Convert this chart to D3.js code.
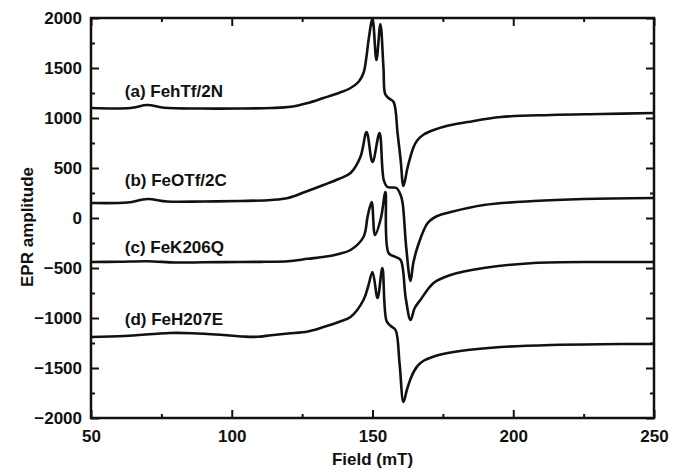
<!DOCTYPE html>
<html>
<head>
<meta charset="utf-8">
<script src="https://cdn.jsdelivr.net/npm/d3@7"></script>
<style>
  body { margin: 0; background: #fff; overflow: hidden; }
  svg { display: block; font-family: "Liberation Sans", Arial, sans-serif; }
</style>
</head>
<body>
<svg id="chart" width="679" height="473"></svg>
<script>
// EPR-Spektren, vier Proben, vertikal versetzt
const fieldTicks = [50, 100, 150, 200, 250];
const fieldMinor = [75, 125, 175, 225];
const ampTicks = [-2000, -1500, -1000, -500, 0, 500, 1000, 1500, 2000];
const ampMinor = [-1750, -1250, -750, -250, 250, 750, 1250, 1750];

const labels = ["(a) FehTf/2N", "(b) FeOTf/2C", "(c) FeK206Q", "(d) FeH207E"];
const labelField = 62;
const labelAmp = [1210, 320, -350, -1070];

// [Feld (mT), Amplitude]
const specA = [
  [50, 1100], [64, 1100], [70, 1130], [76, 1102], [89, 1095], [103, 1095],
  [114, 1100], [121, 1112], [127, 1150], [132.6, 1200], [138, 1250], [142.2, 1300],
  [145, 1360], [146.8, 1450], [147.8, 1600], [148.6, 1780], [150, 1990],
  [151.4, 1580], [152.8, 1940], [153.9, 1500], [154.5, 1240], [155.7, 1200],
  [157.5, 1160], [158.9, 850], [160, 580], [161, 320], [162.5, 510],
  [164.6, 710], [166, 780], [168.2, 835], [171.7, 880], [177, 925],
  [183.8, 960], [195.6, 1010], [213.4, 1030], [231, 1040], [250, 1050]
];

const specB = [
  [50, 150], [63, 155], [70, 190], [77, 165], [90, 165], [103, 170],
  [114, 180], [120, 200], [126, 260], [132.6, 330], [138, 390], [142.2, 450],
  [145.7, 610], [147.9, 860], [150, 560], [152.5, 850], [154, 380],
  [155.3, 310], [158.5, 300], [160, 230], [160.7, 150], [162, -300],
  [163.5, -630], [164.5, -450], [166, -290], [169.6, -50], [173, 20],
  [177.8, 60], [189.5, 130], [207.3, 170], [225, 190], [250, 200]
];

const specC = [
  [50, -440], [60, -438], [70, -432], [80, -445], [90, -443], [103, -440],
  [112, -438], [120, -432], [127, -408], [133, -388], [138, -360],
  [142.2, -320], [146.8, -190], [148.3, 20], [149.7, 160], [150.9, -170],
  [153, 0], [154.6, 260], [155.7, -350], [158.2, -390], [160, -420],
  [161.8, -800], [163.5, -1020], [165, -900], [167, -820], [171.7, -650],
  [177.7, -570], [189.5, -500], [207.3, -450], [231, -440], [250, -440]
];

const specD = [
  [50, -1190], [62, -1180], [78, -1150], [86, -1152], [97, -1170],
  [104, -1185], [109, -1188], [114, -1172], [120, -1155], [127, -1135],
  [132.6, -1090], [138, -1040], [142.2, -990], [146.8, -820], [148.5, -680],
  [150, -540], [151.8, -800], [153.5, -500], [155, -1030], [156.5, -1080],
  [158.2, -1120], [159.6, -1450], [161, -1840], [162.2, -1720], [163.5, -1610],
  [164.8, -1530], [166.3, -1470], [168.3, -1425], [171.3, -1390], [175, -1360],
  [183.8, -1320], [195.6, -1290], [213.4, -1270], [231, -1262], [250, -1260]
];

const spectra = [specA, specB, specC, specD];

const width = 679, height = 473;
const margin = { top: 18, right: 25, bottom: 55, left: 91 };
const innerWidth = width - margin.left - margin.right;
const innerHeight = height - margin.top - margin.bottom;

const svg = d3.select("#chart")
  .attr("viewBox", `0 0 ${width} ${height}`);

const g = svg.append("g")
  .attr("transform", `translate(${margin.left},${margin.top})`);

const x = d3.scaleLinear().domain([50, 250]).range([0, innerWidth]);
const y = d3.scaleLinear().domain([-2000, 2000]).range([innerHeight, 0]);

const ink = "#111";
const fmt = d => d3.format("d")(d).replace("-", "\u2212");

function styleAxis(sel) {
  sel.select(".domain").remove();
  sel.selectAll(".tick line").attr("stroke", ink).attr("stroke-width", 2);
  sel.selectAll(".tick text")
    .attr("fill", ink)
    .attr("font-size", "17px")
    .attr("font-weight", "bold");
}
const noText = sel => sel.selectAll("text").remove();

// Ticks zeigen nach innen (negative Tickgröße)
const axBottom = g.append("g").attr("transform", `translate(0,${innerHeight})`);
axBottom.append("g")
  .call(d3.axisBottom(x).tickValues(fieldTicks).tickSize(-8).tickPadding(12).tickFormat(fmt))
  .call(styleAxis);
axBottom.append("g")
  .call(d3.axisBottom(x).tickValues(fieldMinor).tickSize(-4))
  .call(styleAxis).call(noText);

const axTop = g.append("g");
axTop.append("g").call(d3.axisTop(x).tickValues(fieldTicks).tickSize(-8)).call(styleAxis).call(noText);
axTop.append("g").call(d3.axisTop(x).tickValues(fieldMinor).tickSize(-4)).call(styleAxis).call(noText);

const axLeft = g.append("g");
axLeft.append("g")
  .call(d3.axisLeft(y).tickValues(ampTicks).tickSize(-8).tickPadding(9).tickFormat(fmt))
  .call(styleAxis);
axLeft.append("g").call(d3.axisLeft(y).tickValues(ampMinor).tickSize(-4)).call(styleAxis).call(noText);

const axRight = g.append("g").attr("transform", `translate(${innerWidth},0)`);
axRight.append("g").call(d3.axisRight(y).tickValues(ampTicks).tickSize(-8)).call(styleAxis).call(noText);
axRight.append("g").call(d3.axisRight(y).tickValues(ampMinor).tickSize(-4)).call(styleAxis).call(noText);

// Rahmen
g.append("rect")
  .attr("width", innerWidth)
  .attr("height", innerHeight)
  .attr("fill", "none")
  .attr("stroke", ink)
  .attr("stroke-width", 2.5);

const line = d3.line()
  .x(d => x(d[0]))
  .y(d => y(d[1]))
  .curve(d3.curveCatmullRom.alpha(0.5));

g.append("defs").append("clipPath").attr("id", "clip")
  .append("rect").attr("width", innerWidth).attr("height", innerHeight);

g.append("g").attr("clip-path", "url(#clip)")
  .selectAll("path")
  .data(spectra)
  .join("path")
  .attr("d", line)
  .attr("fill", "none")
  .attr("stroke", ink)
  .attr("stroke-width", 2.6)
  .attr("stroke-linejoin", "round");

g.selectAll(".label")
  .data(labels)
  .join("text")
  .attr("class", "label")
  .attr("x", x(labelField))
  .attr("y", (d, i) => y(labelAmp[i]))
  .attr("fill", ink)
  .attr("font-size", "17px")
  .attr("font-weight", "bold")
  .text(d => d);

// Achsenbeschriftungen
svg.append("text")
  .attr("x", margin.left + innerWidth / 2)
  .attr("y", 465)
  .attr("text-anchor", "middle")
  .attr("fill", ink)
  .attr("font-size", "17px")
  .attr("font-weight", "bold")
  .text("Field (mT)");

svg.append("text")
  .attr("transform", "rotate(-90)")
  .attr("x", -(margin.top + innerHeight / 2) - 9)
  .attr("y", 33)
  .attr("text-anchor", "middle")
  .attr("fill", ink)
  .attr("font-size", "17px")
  .attr("font-weight", "bold")
  .text("EPR amplitude");
</script>
</body>
</html>
